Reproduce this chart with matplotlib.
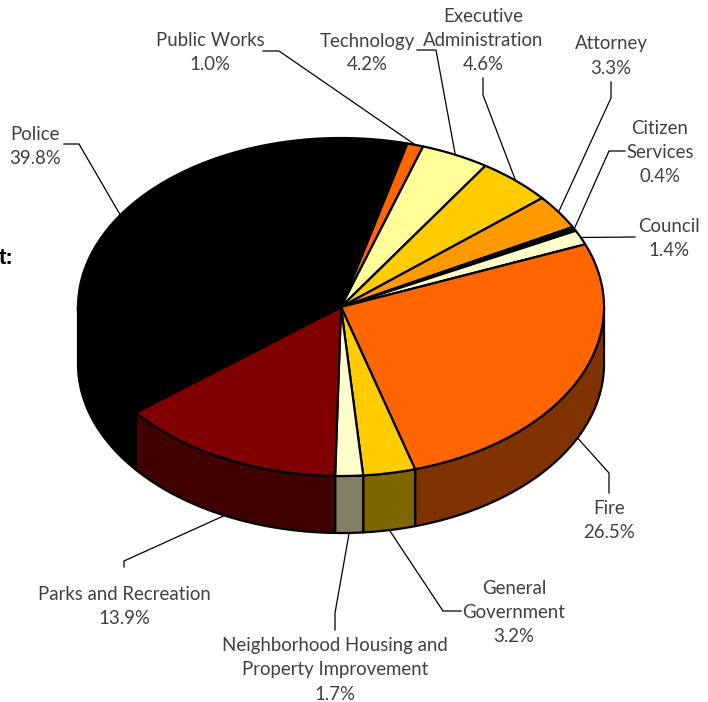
import numpy as np
import matplotlib
matplotlib.use("Agg")
import matplotlib.pyplot as plt
from matplotlib.patches import Polygon

# slices, clockwise from the top of the pie
names = ["Public Works", "Technology", "Executive\nAdministration", "Attorney",
         "Citizen\nServices", "Council", "Fire", "General\nGovernment",
         "Neighborhood Housing and\nProperty Improvement", "Parks and Recreation", "Police"]
shares = [1.0, 4.2, 4.6, 3.3, 0.4, 1.4, 26.5, 3.2, 1.7, 13.9, 39.8]

top_colors = ["#FF6600", "#FFFF99", "#FFCC00", "#FF9900", "#000000", "#FFFFCC",
              "#FF6600", "#FFCC00", "#FFFFCC", "#800000", "#000000"]
side_colors = ["#803300", "#808050", "#806600", "#804D00", "#000000", "#808066",
               "#803300", "#806600", "#808066", "#400000", "#000000"]

# pie geometry, in picture pixels
cx, cy = 341, 307
rx, ry = 263, 169
depth = 57
start = 75.4

label_xy = [(210, 52), (367, 53), (483, 40), (611, 56), (660, 152), (669, 239),
            (609, 521), (514, 613), (335, 670), (124, 607), (35, 147)]
# leader line points from the label towards the slice
leaders = [[(263, 51), (279, 51)], [(417, 50), (436, 50)], [(483, 78), (483, 95)],
           [(611, 82), (611, 98)], [(625, 151), (609, 151)], [(635, 237)],
           [(609, 493), (609, 473)], [(461, 611), (443, 611)], [(335, 630), (335, 613)],
           [(124, 567), (124, 561)], [(64, 144), (79, 144)]]

plt.rcParams['font.family'] = ['Lato', 'DejaVu Sans']

fig = plt.figure(figsize=(7.08, 7.02), dpi=100)
ax = fig.add_axes([0, 0, 1, 1])
ax.set_xlim(0, 708)
ax.set_ylim(702, 0)
ax.axis("off")


def rim(a, b, dy=0):
    t = np.radians(np.linspace(a, b, 120))
    return np.column_stack([cx + rx * np.cos(t), cy + dy - ry * np.sin(t)])


ends = start - np.cumsum([0] + shares) * 3.6

# outer wall first, only the front half can be seen
for i in range(len(shares)):
    a = ends[i] % 360
    b = a - shares[i] * 3.6
    if a == 0:
        a = 360
    lo = max(b, 180 if a > 180 else -180)
    hi = min(a, 360)
    if a <= 180 and b >= 0:
        continue
    if a <= 180:
        hi, lo = 0, b
    if lo >= hi:
        continue
    pts = np.vstack([rim(hi, lo), rim(lo, hi, depth)])
    ax.add_patch(Polygon(pts, closed=True, fc=side_colors[i], ec="black", lw=1.6, joinstyle="round"))

for i in range(len(shares)):
    pts = np.vstack([[(cx, cy)], rim(ends[i], ends[i + 1])])
    ax.add_patch(Polygon(pts, closed=True, fc=top_colors[i], ec="black", lw=1.6, joinstyle="round"))

for i in range(len(shares)):
    mid = (ends[i] + ends[i + 1]) / 2
    x = cx + rx * np.cos(np.radians(mid))
    y = cy - ry * np.sin(np.radians(mid))
    # slices on the front half get their leader from the wall bottom
    if np.sin(np.radians(mid)) < 0:
        y += depth
    line = leaders[i] + [(x, y)]
    ax.plot([p[0] for p in line], [p[1] for p in line], color="black", lw=0.9, solid_joinstyle="miter")
    ax.text(label_xy[i][0], label_xy[i][1], f"{names[i]}\n{shares[i]:.1f}%", ha="center", va="center",
            fontsize=13.4, color="#404040", linespacing=1.5, multialignment="center")

ax.text(14, 258, "t:", ha="right", va="center", fontsize=16, fontweight="bold",
        family="Liberation Sans", color="black")

fig.savefig("out.png", dpi=100)
